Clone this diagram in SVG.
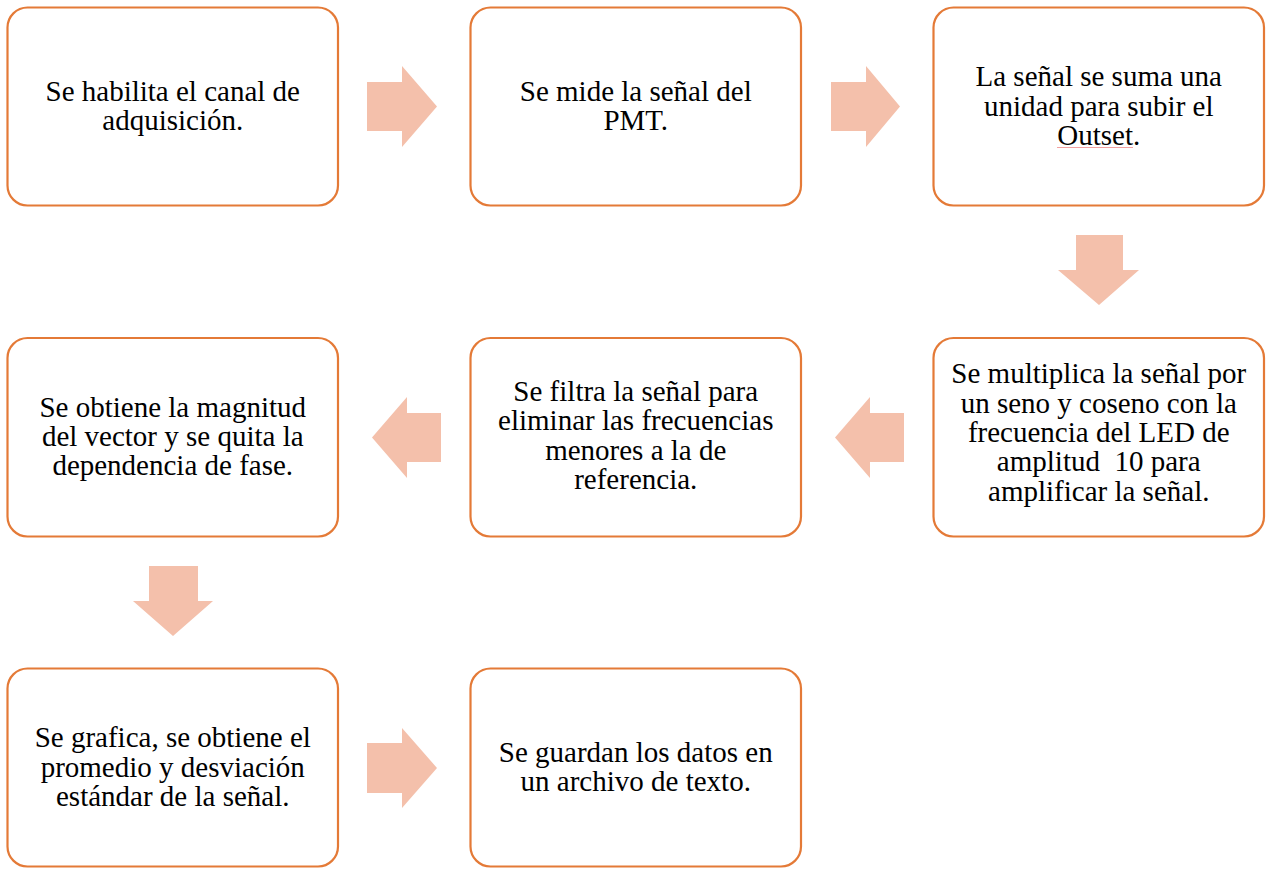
<svg xmlns="http://www.w3.org/2000/svg" width="1267" height="869" viewBox="0 0 1267 869">
<style>
.box{fill:#FFFFFF;stroke:#E47A37;stroke-width:2.2}
.arr{fill:#F4C0AB}
.t{font-family:"Liberation Serif","Times New Roman",serif;font-size:29px;fill:#000000;text-anchor:middle}
</style>
<rect width="1267" height="869" fill="#FFFFFF"/>
<g id="connectors">
<polygon class="arr" points="367,82 402,82 402,66 437,106.5 402,147 402,131 367,131"/>
<polygon class="arr" points="831,82 866,82 866,66 900,106.5 866,147 866,131 831,131"/>
<polygon class="arr" points="1076,235 1123,235 1123,270 1139,270 1099,305 1058,270 1076,270"/>
<polygon class="arr" points="904,413 870,413 870,397 835,437.5 870,478 870,462 904,462"/>
<polygon class="arr" points="441,413 407,413 407,397 372,437.5 407,478 407,462 441,462"/>
<polygon class="arr" points="149,566 198,566 198,601 213,601 173,636 133,601 149,601"/>
<polygon class="arr" points="367,743 402,743 402,728 437,768 402,808 402,793 367,793"/>
</g>
<g id="n1">
<rect class="box" x="7.5" y="7.5" width="330.5" height="198" rx="20"/>
<text class="t" x="172.75"><tspan x="172.75" y="101">Se habilita el canal de</tspan><tspan x="172.75" y="130.3">adquisición.</tspan></text>
</g>
<g id="n2">
<rect class="box" x="470.5" y="7.5" width="330.5" height="198" rx="20"/>
<text class="t" x="635.75"><tspan x="635.75" y="101">Se mide la señal del</tspan><tspan x="635.75" y="130.3">PMT.</tspan></text>
</g>
<g id="n3">
<rect class="box" x="933.5" y="7.5" width="330.5" height="198" rx="20"/>
<text class="t" x="1098.75"><tspan x="1098.75" y="86.2">La señal se suma una</tspan><tspan x="1098.75" y="115.5">unidad para subir el</tspan><tspan x="1098.75" y="144.8">Outset.</tspan></text>
<line x1="1057" y1="147.5" x2="1133" y2="147.5" stroke="#F2A0A0" stroke-width="1"/>
</g>
<g id="n4">
<rect class="box" x="933.5" y="338" width="330.5" height="198.5" rx="20"/>
<text class="t" x="1098.75" xml:space="preserve" style="white-space:pre"><tspan x="1098.75" y="383.3">Se multiplica la señal por</tspan><tspan x="1098.75" y="412.6">un seno y coseno con la</tspan><tspan x="1098.75" y="441.9">frecuencia del LED de</tspan><tspan x="1098.75" y="471.2">amplitud  10 para</tspan><tspan x="1098.75" y="500.5">amplificar la señal.</tspan></text>
</g>
<g id="n5">
<rect class="box" x="470.5" y="338" width="330.5" height="198.5" rx="20"/>
<text class="t" x="635.75"><tspan x="635.75" y="401">Se filtra la señal para</tspan><tspan x="635.75" y="430.3">eliminar las frecuencias</tspan><tspan x="635.75" y="459.6">menores a la de</tspan><tspan x="635.75" y="488.9">referencia.</tspan></text>
</g>
<g id="n6">
<rect class="box" x="7.5" y="338" width="330.5" height="198.5" rx="20"/>
<text class="t" x="172.75"><tspan x="172.75" y="416.5">Se obtiene la magnitud</tspan><tspan x="172.75" y="445.8">del vector y se quita la</tspan><tspan x="172.75" y="475.1">dependencia de fase.</tspan></text>
</g>
<g id="n7">
<rect class="box" x="7.5" y="668.5" width="330.5" height="198" rx="20"/>
<text class="t" x="172.75"><tspan x="172.75" y="747.4">Se grafica, se obtiene el</tspan><tspan x="172.75" y="776.7">promedio y desviación</tspan><tspan x="172.75" y="806">estándar de la señal.</tspan></text>
</g>
<g id="n8">
<rect class="box" x="470.5" y="668.5" width="330.5" height="198" rx="20"/>
<text class="t" x="635.75"><tspan x="635.75" y="761.5">Se guardan los datos en</tspan><tspan x="635.75" y="790.8">un archivo de texto.</tspan></text>
</g>
</svg>
